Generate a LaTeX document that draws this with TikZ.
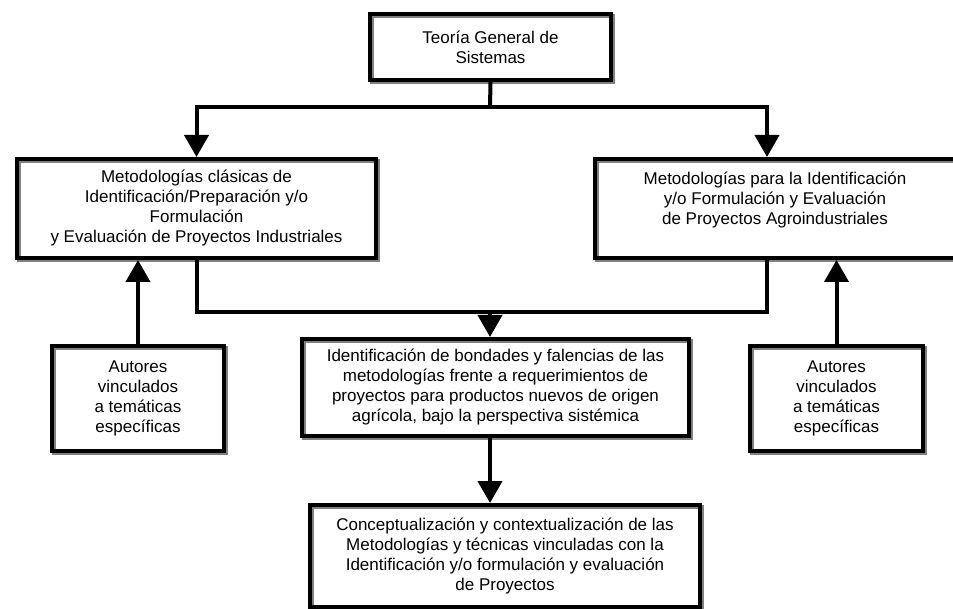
\documentclass[tikz,border=0pt]{standalone}
\usepackage{fontspec}
\setmainfont{Liberation Sans}
\usepackage{tikz}
\usetikzlibrary{shapes, arrows.meta, positioning}

\tikzset{
  arrow/.style={draw=black,line width=4pt,-{Triangle[width=24pt,length=22pt]}},
  link/.style={draw=black,line width=4pt}
}

\begin{document}
\begin{tikzpicture}[x=1pt,y=-1pt]
        \useasboundingbox (0,0) rectangle (953,609);
        \begin{scope}[every node/.style={draw=black,line width=4pt,align=center,inner sep=0pt,
            font=\fontsize{17}{20}\selectfont,
            preaction={draw=black!50,line width=4pt,transform canvas={xshift=2pt,yshift=-2pt}}}]
          \node[minimum width=241pt,minimum height=66pt] (tgs) at (490.5,47) {Teoría General de\\Sistemas};
          \node[minimum width=359pt,minimum height=99pt] (metcl) at (196.5,208.5)
            {Metodologías clásicas de\\Identificación/Preparación y/o\\Formulación\\y Evaluación de Proyectos Industriales};
          \node[minimum width=360pt,minimum height=99pt] (metag) at (775,208.5)
            {Metodologías para la Identificación\\y/o Formulación y Evaluación\\de Proyectos Agroindustriales\\\mbox{}};
          \node[minimum width=387pt,minimum height=97pt] (ident) at (495.5,387.5)
            {Identificación de bondades y falencias de las\\metodologías frente a requerimientos de\\proyectos para productos nuevos de origen\\agrícola, bajo la perspectiva sistémica};
          \node[minimum width=172pt,minimum height=105pt] (autl) at (138,398.5)
            {Autores\\vinculados\\a temáticas\\específicas};
          \node[minimum width=173pt,minimum height=105pt] (autr) at (836.5,398.5)
            {Autores\\vinculados\\a temáticas\\específicas};
          \node[minimum width=390pt,minimum height=102pt] (concept) at (505,556)
            {Conceptualización y contextualización de las\\Metodologías y técnicas vinculadas con la\\Identificación y/o formulación y evaluación\\de Proyectos};
        \end{scope}
        \coordinate (split) at (490,107);
        \coordinate (merge) at (490,312);
        \draw[link] (tgs.south) -- (split);
        \draw[arrow] (split) -| (metcl.north);
        \draw[arrow] (split) -| ([xshift=-8pt]metag.north);
        \draw[link] (metcl.south) |- (merge) -| ([xshift=-8pt]metag.south);
        \draw[arrow] (merge) -- (merge |- ident.north);
        \begin{scope}[every edge/.style={arrow}]
          \path (autl.north) edge (autl.north |- metcl.south);
          \path (autr.north) edge (autr.north |- metag.south);
          \path (merge |- ident.south) edge (merge |- concept.north);
        \end{scope}
      \end{tikzpicture}
\end{document}
